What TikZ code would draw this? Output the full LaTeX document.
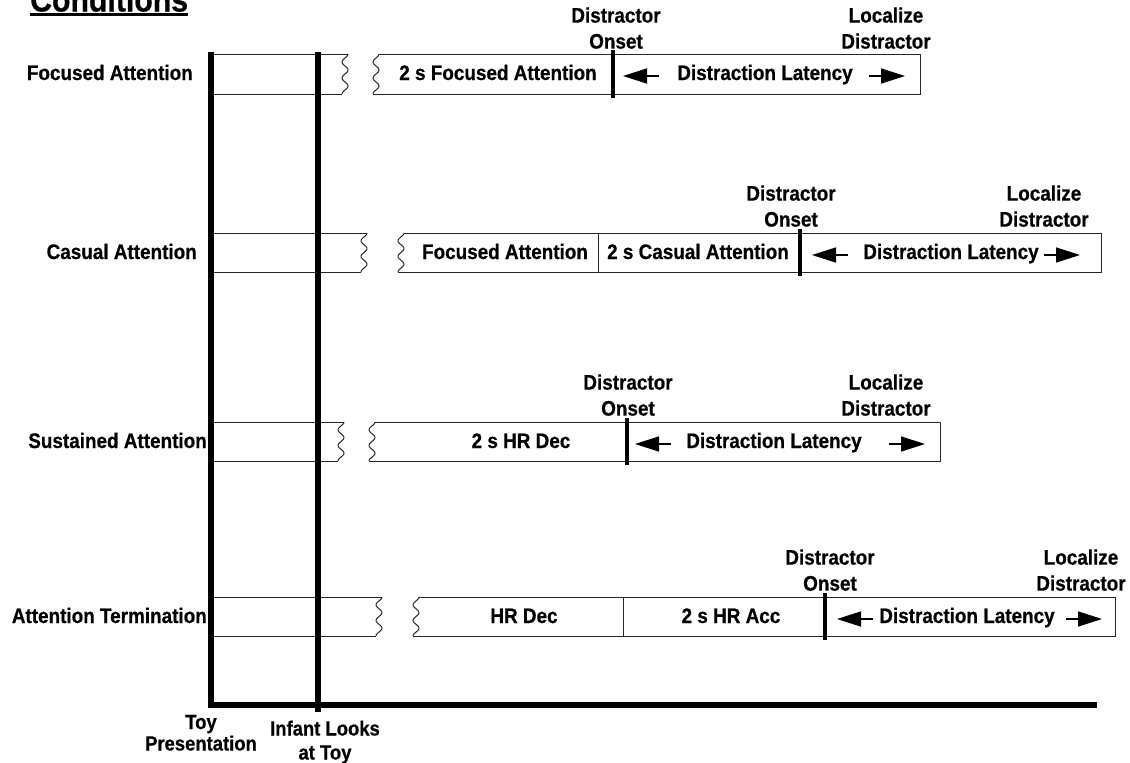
\documentclass[tikz,border=0pt]{standalone}
\usepackage{fontspec}
\setmainfont{Liberation Sans}[FakeStretch=0.9, BoldFeatures={FakeBold=0.6}]
\usetikzlibrary{arrows.meta,calc}
\newcommand\wavyline[3]{% x, top, bottom
  \draw[thinline] plot[domain=#2:#3, samples=60, smooth] ({#1+3*cos(((\x-#2)/(#3-#2))*900)}, \x);
}
\newcommand\rowbox[5]{% top, bottom, w1, w2, right
  \draw[thinline] (211,#1) -- (#3+3,#1);
  \draw[thinline] (211,#2) -- (#3-3,#2);
  \wavyline{#3}{#1}{#2}
  \wavyline{#4}{#1}{#2}
  \draw[thinline] (#4+3,#1) -- (#5,#1) -- (#5,#2) -- (#4-3,#2);
}
\begin{document}
\begin{tikzpicture}[x=1pt,y=-1pt,
  lbl/.style={font=\fontsize{21}{26}\selectfont\bfseries, inner sep=0pt, align=center},
  toylbl/.style={font=\fontsize{20.5}{21.5}\selectfont\bfseries, inner sep=0pt, align=center},
  inflbl/.style={font=\fontsize{20.5}{24}\selectfont\bfseries, inner sep=0pt, align=center},
  titlelbl/.style={font=\fontsize{33.6}{40}\selectfont\bfseries, inner sep=0pt},
  thinline/.style={line width=1pt, black!85},
  thickbar/.style={line width=5.5pt},
  divider/.style={line width=3.5pt},
  lat/.style={line width=1.5pt, -{Triangle[length=24pt,width=15pt]}},
]
\useasboundingbox (0,0) rectangle (1130,763);
\clip (0,0) rectangle (1130,763);

% title
\node[titlelbl, anchor=base west] (title) at (30,11.5) {Conditions};
\draw[line width=2.5pt] ($(title.base west)+(0,2.8)$) -- ($(title.base east)+(0,2.8)$);

% rows
\rowbox{54}{94}{345}{376}{920}
\rowbox{233}{272}{364}{401}{1101}
\rowbox{422}{461}{341}{372}{940}
\rowbox{597}{636}{379}{416}{1115}

% thin dividers
\draw[thinline] (598,233) -- (598,272);
\draw[thinline] (623,597) -- (623,636);

% thick dividers (distractor onset)
\draw[divider] (613,50) -- (613,98);
\draw[divider] (800,229) -- (800,276);
\draw[divider] (627,418) -- (627,465);
\draw[divider] (825,593) -- (825,640);

% axes
\draw[thickbar] (211,52) -- (211,707);
\draw[thickbar] (318,52) -- (318,712);
\draw[thickbar] (208,705) -- (1097,705);

% condition labels
\node[lbl, anchor=base east] (c1) at (193,80) {Focused Attention};
\node[lbl, anchor=base east] (c2) at (197,259) {Casual Attention};
\node[lbl, anchor=base east] (c3) at (207,448) {Sustained Attention};
\node[lbl, anchor=base east] (c4) at (207,623) {Attention Termination};

% segment labels
\node[lbl, anchor=base] (b1) at (498,80) {2 s Focused Attention};
\node[lbl, anchor=base] (b2a) at (505,259) {Focused Attention};
\node[lbl, anchor=base] (b2b) at (698,259) {2 s Casual Attention};
\node[lbl, anchor=base] (b3) at (521,448) {2 s HR Dec};
\node[lbl, anchor=base] (b4a) at (524,623) {HR Dec};
\node[lbl, anchor=base] (b4b) at (731,623) {2 s HR Acc};

% distraction latency
\node[lbl, anchor=base] (l1) at (765,80) {Distraction Latency};
\node[lbl, anchor=base] (l2) at (951,259) {Distraction Latency};
\node[lbl, anchor=base] (l3) at (774,448) {Distraction Latency};
\node[lbl, anchor=base] (l4) at (967,623) {Distraction Latency};

\coordinate (l1L) at (623,76);  \coordinate (l1R) at (905,76);
\coordinate (l2L) at (812,255); \coordinate (l2R) at (1080,255);
\coordinate (l3L) at (635,444); \coordinate (l3R) at (925,444);
\coordinate (l4L) at (837,619); \coordinate (l4R) at (1102,619);
\foreach \r in {1,2,3,4}{
  \draw[lat] ($(l\r L)+(36,0)$) -- (l\r L);
  \draw[lat] ($(l\r R)+(-36,0)$) -- (l\r R);
}

% onset / localize labels
\node[lbl, anchor=south] (o1) at (616,49) {Distractor\\Onset};
\node[lbl, anchor=south] (z1) at (886,49) {Localize\\Distractor};
\node[lbl, anchor=south] (o2) at (791,227) {Distractor\\Onset};
\node[lbl, anchor=south] (z2) at (1044,227) {Localize\\Distractor};
\node[lbl, anchor=south] (o3) at (628,416) {Distractor\\Onset};
\node[lbl, anchor=south] (z3) at (886,416) {Localize\\Distractor};
\node[lbl, anchor=south] (o4) at (830,591) {Distractor\\Onset};
\node[lbl, anchor=south] (z4) at (1081,591) {Localize\\Distractor};

% bottom labels
\node[toylbl, anchor=base] (toy) at (201,750.5) {Toy\\Presentation};
\node[inflbl, anchor=base] (inf) at (325,759.5) {Infant Looks\\at Toy};
\end{tikzpicture}
\end{document}
